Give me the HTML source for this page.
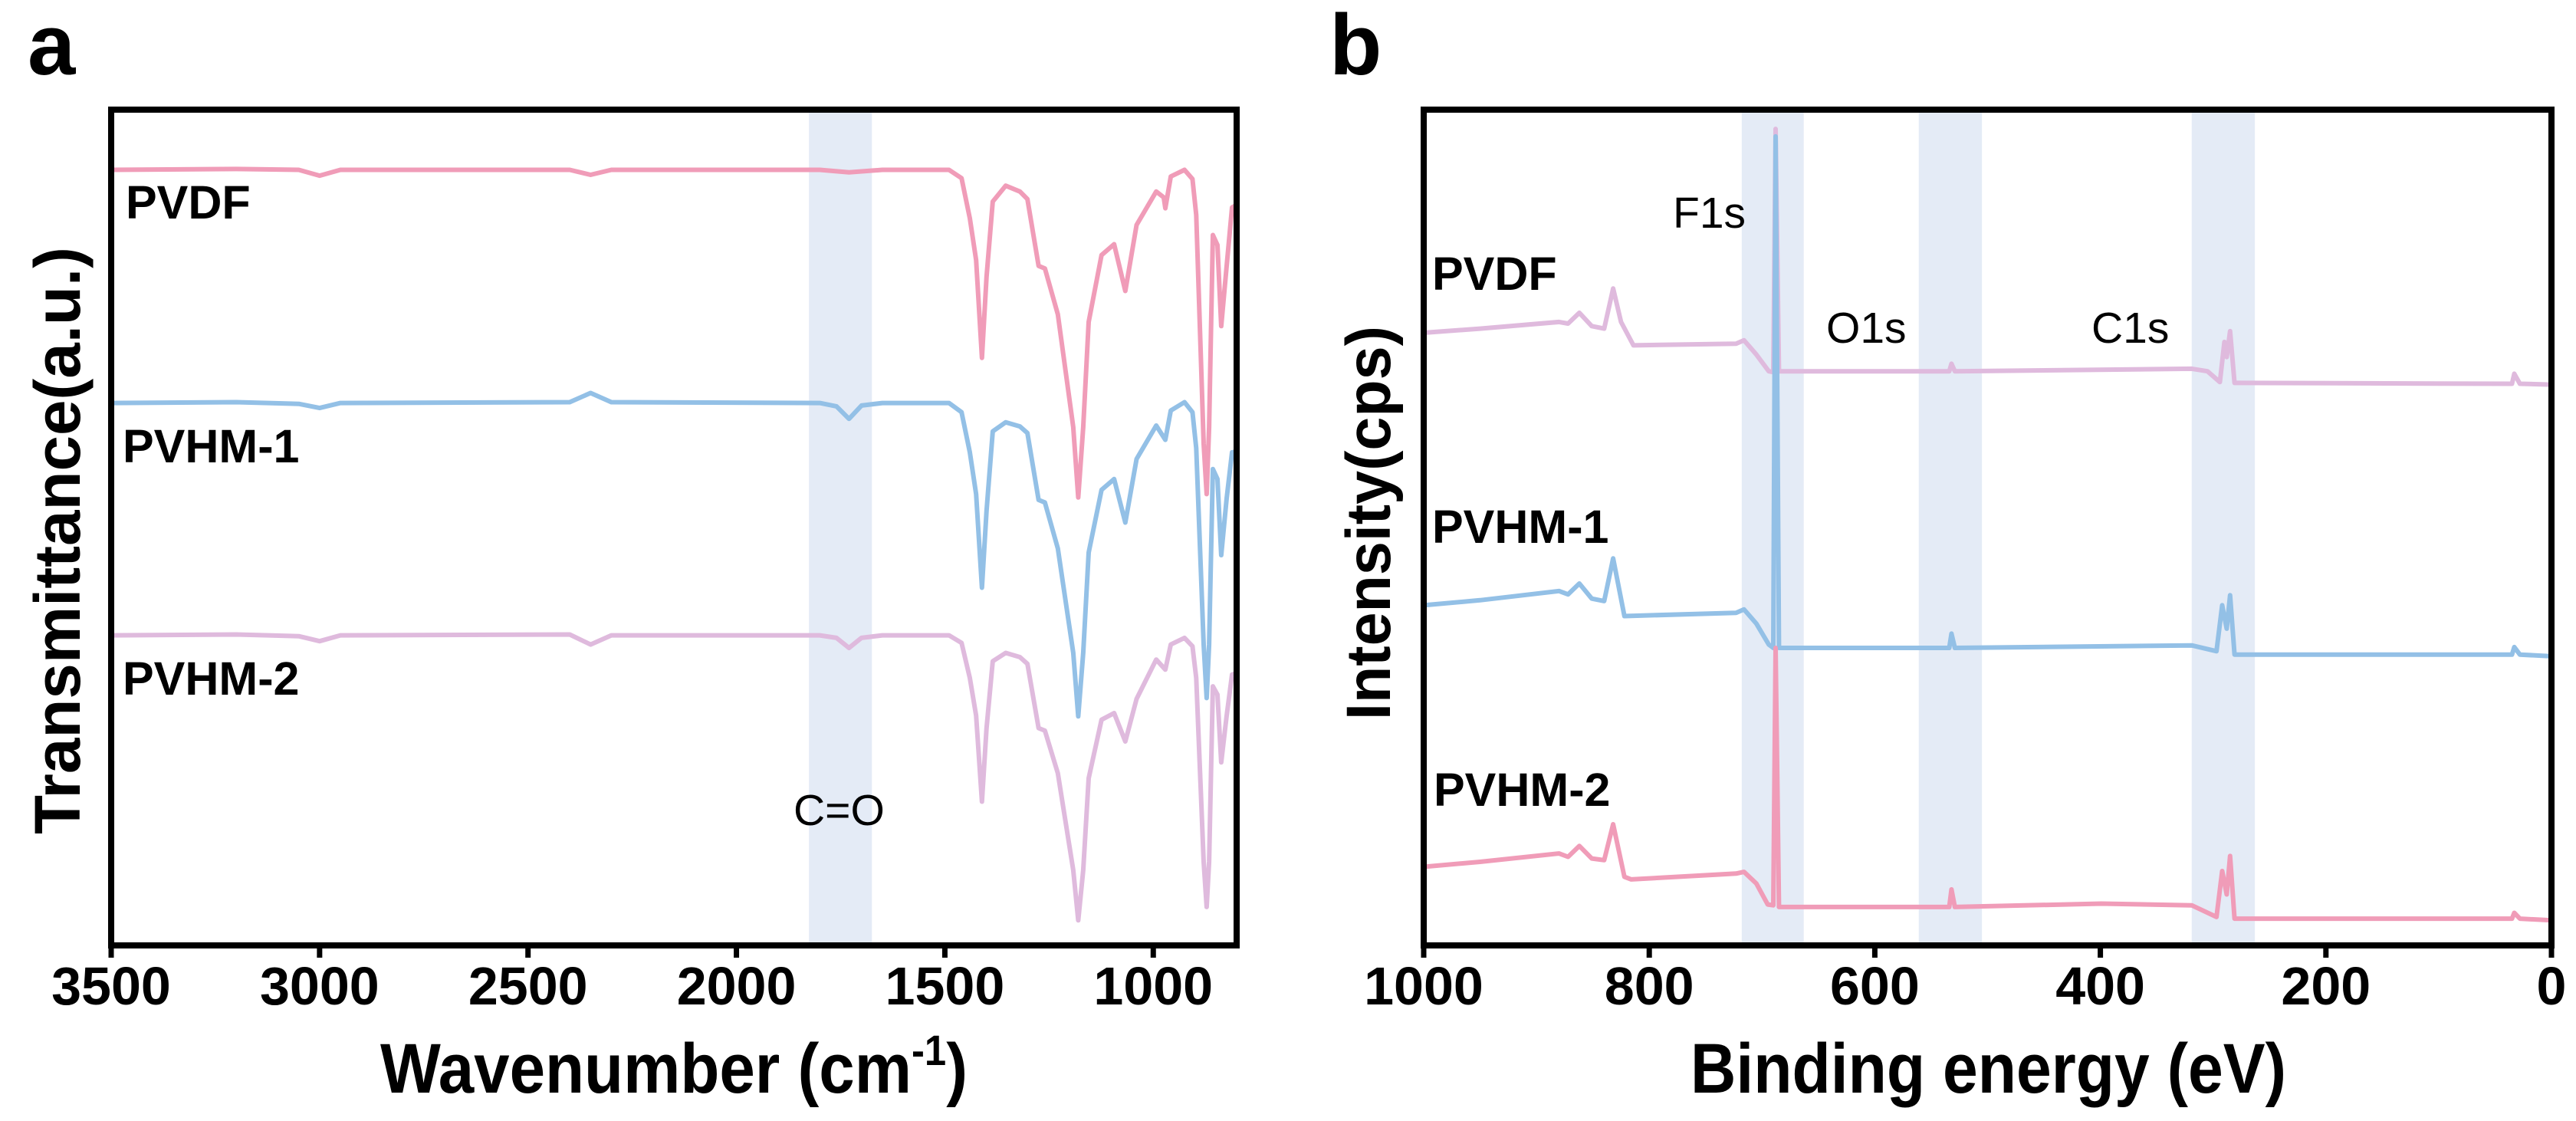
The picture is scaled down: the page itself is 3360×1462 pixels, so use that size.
<!DOCTYPE html>
<html><head><meta charset="utf-8"><style>
html,body{margin:0;padding:0;background:#fff;}
svg{display:block;font-family:"Liberation Sans",Arial,sans-serif;}
</style></head><body>
<svg id="fig" width="3360" height="1462" viewBox="0 0 3360 1462" xmlns="http://www.w3.org/2000/svg">
<rect width="3360" height="1462" fill="#fff"/>
<g id="pa"></g>
<g id="pb"></g>
<text x="36" y="97" font-size="112" font-weight="bold">a</text>
<text x="1734" y="97" font-size="112" font-weight="bold">b</text>
<text x="496" y="1425" font-size="92" font-weight="bold" textLength="766" lengthAdjust="spacingAndGlyphs">Wavenumber (cm<tspan dy="-36" font-size="56">-1</tspan><tspan dy="36">)</tspan></text>
<text x="2205" y="1425" font-size="92" font-weight="bold" textLength="777" lengthAdjust="spacingAndGlyphs">Binding energy (eV)</text>
<text transform="translate(104,1088) rotate(-90)" font-size="84" font-weight="bold" textLength="766" lengthAdjust="spacingAndGlyphs">Transmittance(a.u.)</text>
<text transform="translate(1813,939) rotate(-90)" font-size="82" font-weight="bold" textLength="514" lengthAdjust="spacingAndGlyphs">Intensity(cps)</text>
</svg>
<script>
// ---------- Panel a data (FTIR) ----------
const aTicks = [3500, 3000, 2500, 2000, 1500, 1000];
const aBand = [1826, 1675];
const aPVDF = [[3500,92.8],[3200,92.9],[3050,92.8],[3000,92.1],[2950,92.8],[2400,92.8],[2350,92.2],[2300,92.8],[1800,92.8],[1730,92.5],[1650,92.8],[1490,92.8],[1460,91.8],[1440,87],[1425,82],[1411,70.3],[1400,80],[1385,89],[1354,90.9],[1320,90.2],[1302,89.3],[1275,81.3],[1260,81.0],[1229,75.5],[1192,62],[1180,53.6],[1168,62],[1155,74.6],[1124,82.6],[1094,83.9],[1067,78.3],[1040,86.2],[993,90.2],[975,89.5],[971,88.2],[958,92.0],[925,92.8],[906,91.7],[897,87.4],[879,60],[872,54],[866,62],[857,85.0],[846,83.8],[837,74.1],[824,81.3],[811,88.3],[800,88.6]];
const aPVHM1 = [[3500,64.9],[3200,65.0],[3050,64.8],[3000,64.3],[2950,64.9],[2400,65.0],[2350,66.1],[2300,65.0],[1800,64.9],[1760,64.5],[1730,63.0],[1700,64.6],[1650,64.9],[1490,64.9],[1460,63.8],[1440,59],[1425,54],[1411,42.8],[1400,52],[1385,61.5],[1354,62.6],[1320,62.1],[1302,61.3],[1275,53.3],[1260,53.0],[1229,47.5],[1192,35],[1180,27.4],[1168,35],[1155,47],[1124,54.5],[1094,55.8],[1067,50.6],[1040,58.2],[993,62.2],[971,60.5],[958,64.0],[925,65.0],[906,63.8],[897,59.5],[879,36],[872,29.6],[866,36],[857,57.0],[846,55.8],[837,46.7],[824,53.5],[811,59.0],[800,59.1]];
const aPVHM2 = [[3500,37.1],[3200,37.2],[3050,37.0],[3000,36.4],[2950,37.1],[2400,37.2],[2350,36.0],[2300,37.1],[1800,37.1],[1760,36.8],[1730,35.6],[1700,36.8],[1650,37.1],[1490,37.1],[1460,36.2],[1440,32],[1425,27.5],[1411,17.2],[1400,26],[1385,34],[1354,35.0],[1320,34.5],[1302,33.7],[1275,26.0],[1260,25.7],[1229,20.6],[1192,9],[1180,3.0],[1168,9],[1155,20],[1124,27.0],[1094,27.8],[1067,24.4],[1040,29.5],[993,34.2],[971,33.0],[958,36.0],[925,36.8],[906,35.8],[897,32],[879,10],[872,4.6],[866,10],[857,31.0],[846,30.0],[837,21.9],[824,27.5],[811,32.4],[800,32.6]];

// ---------- Panel b data (XPS) ----------
const bTicks = [1000, 800, 600, 400, 200, 0];
const bBands = [[718,663],[561,505],[319,263]];
const bPVDF = [[1000,73.3],[950,73.8],[880,74.6],[872,74.4],[862,75.7],[851,74.1],[840,73.8],[832,78.6],[825,74.6],[814,71.8],[723,72.0],[716,72.4],[705,70.7],[694,68.7],[690,68.6],[688,97.7],[685,68.7],[534,68.7],[532,69.6],[529,68.7],[319,69.0],[305,68.7],[294,67.4],[290,72.2],[288,70.4],[285,73.5],[281,67.3],[35,67.2],[33,68.4],[28,67.2],[0,67.1]];
const bPVHM1 = [[1000,40.7],[950,41.3],[880,42.4],[872,42.0],[862,43.3],[851,41.5],[840,41.2],[832,46.3],[822,39.4],[723,39.8],[716,40.2],[705,38.5],[694,36.0],[690,35.6],[688,96.8],[685,35.6],[534,35.6],[532,37.3],[529,35.6],[319,35.9],[297,35.2],[292,40.7],[288,37.9],[285,41.9],[281,34.8],[35,34.8],[33,35.7],[28,34.8],[0,34.6]];
const bPVHM2 = [[1000,9.4],[950,10.0],[880,11.0],[872,10.6],[862,11.9],[851,10.4],[840,10.2],[832,14.5],[822,8.2],[816,7.9],[723,8.6],[716,8.8],[705,7.4],[695,4.9],[690,4.8],[688,35.6],[685,4.6],[534,4.6],[532,6.7],[529,4.6],[399,5.0],[319,4.8],[297,3.4],[292,8.9],[288,6.1],[285,10.7],[281,3.2],[35,3.2],[33,3.9],[28,3.2],[0,3.0]];

const NS = "http://www.w3.org/2000/svg";
function mk(parent, tag, attrs) {
  const e = document.createElementNS(NS, tag);
  for (const k in attrs) e.setAttribute(k, attrs[k]);
  parent.appendChild(e);
  return e;
}
const TOP = 143, BOT = 1233;
function yScale(v) { return BOT - v / 100 * (BOT - TOP); }
const xa = v => 145 + (3500 - v) / 2700 * (1613 - 145);
const xb = v => 1857 + (1000 - v) / 1000 * (3328 - 1857);

function panel(g, xs, L, R, ticks, bands, series, labels, bandLabels, nm) {
  for (const b of bands) {
    const r = mk(g, 'rect', {x: xs(b[0]), y: TOP, width: xs(b[1]) - xs(b[0]), height: BOT - TOP, fill: '#e4ebf6'});
    
    
  }
  for (const s of series) {
    const d = s.data.map((p, i) => (i ? 'L' : 'M') + xs(p[0]).toFixed(1) + ' ' + yScale(p[1]).toFixed(1)).join(' ');
    const p = mk(g, 'path', {d: d, fill: 'none', stroke: s.color, 'stroke-width': 6, 'stroke-linejoin': 'round'});
    
    
  }
  const fr = mk(g, 'rect', {x: L, y: TOP, width: R - L, height: BOT - TOP, fill: 'none', stroke: '#000', 'stroke-width': 8});
  
  
  for (const t of ticks) {
    const x = xs(t);
    const tl = mk(g, 'line', {x1: x, y1: BOT, x2: x, y2: BOT + 16, stroke: '#000', 'stroke-width': 7});
    
    
    const tx = mk(g, 'text', {x: x, y: 1310, 'font-size': 70, 'font-weight': 'bold', 'text-anchor': 'middle'});
    tx.textContent = t;
    
    
  }
  for (const l of labels) {
    const tx = mk(g, 'text', {x: l.x, y: l.y, 'font-size': 61, 'font-weight': 'bold'});
    tx.textContent = l.t;
    
    
  }
  for (const l of bandLabels) {
    const tx = mk(g, 'text', {x: l.x, y: l.y, 'font-size': 57});
    tx.textContent = l.t;
    
    
  }
}
panel(document.getElementById('pa'), xa, 145, 1613, aTicks, [aBand],
  [{data: aPVDF, color: '#f09cb8', name: 'pvdf-ftir-line'},
   {data: aPVHM1, color: '#93c0e6', name: 'pvhm1-ftir-line'},
   {data: aPVHM2, color: '#dfbadd', name: 'pvhm2-ftir-line'}],
  [{x: 164, y: 285, t: 'PVDF', n: 'pvdf-label-a'},
   {x: 160, y: 603, t: 'PVHM-1', n: 'pvhm1-label-a'},
   {x: 160, y: 906, t: 'PVHM-2', n: 'pvhm2-label-a'}],
  [{x: 1035, y: 1076, t: 'C=O', n: 'carbonyl-band-label'}], 'a');
panel(document.getElementById('pb'), xb, 1857, 3328, bTicks, bBands,
  [{data: bPVDF, color: '#dfbadd', name: 'pvdf-xps-line'},
   {data: bPVHM1, color: '#93c0e6', name: 'pvhm1-xps-line'},
   {data: bPVHM2, color: '#f09cb8', name: 'pvhm2-xps-line'}],
  [{x: 1868, y: 378, t: 'PVDF', n: 'pvdf-label-b'},
   {x: 1868, y: 708, t: 'PVHM-1', n: 'pvhm1-label-b'},
   {x: 1870, y: 1051, t: 'PVHM-2', n: 'pvhm2-label-b'}],
  [{x: 2182, y: 297, t: 'F1s', n: 'f1s-label'},
   {x: 2382, y: 447, t: 'O1s', n: 'o1s-label'},
   {x: 2728, y: 447, t: 'C1s', n: 'c1s-label'}], 'b');
</script>
</body></html>
